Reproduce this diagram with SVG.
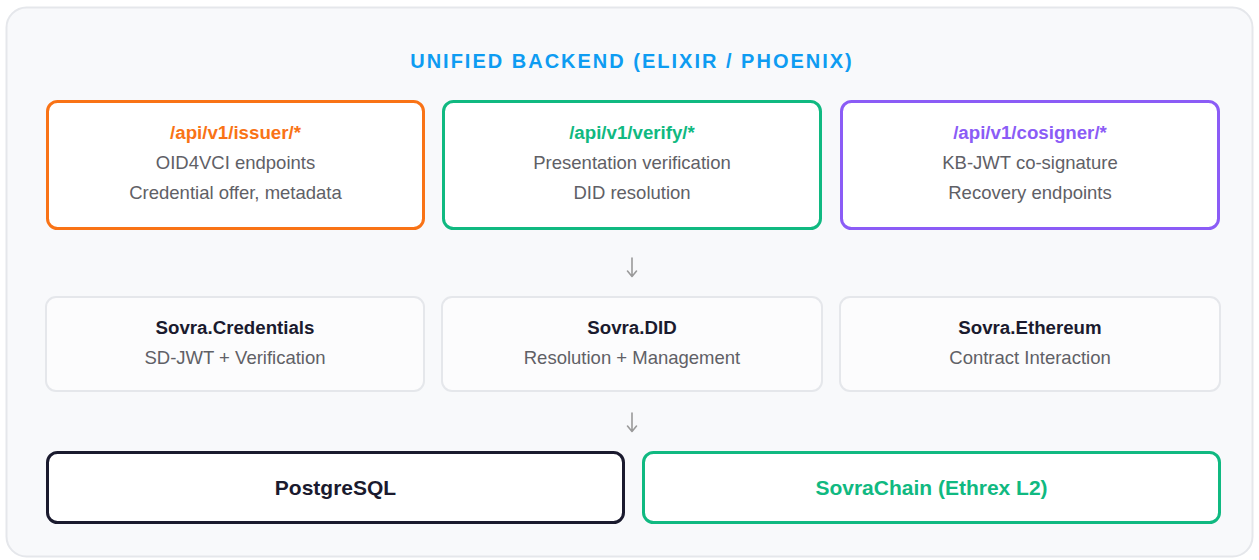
<svg xmlns="http://www.w3.org/2000/svg" width="1259" height="560" viewBox="0 0 1259 560">
<defs>
<style>
.t{font-family:"Liberation Sans",Arial,Helvetica,sans-serif;text-anchor:middle}
.h{font-size:18.7px;font-weight:bold}
.b{font-size:21px;font-weight:bold}
.s{font-size:18.5px;fill:#606066}
.dk{fill:#1a1a2e}
.api{fill:#ffffff;stroke-width:3}
.mod{fill:#fcfcfd;stroke:#e5e7eb;stroke-width:2}
.conn{stroke:#9a9a9a;stroke-width:1.6;fill:none;stroke-linecap:round;stroke-linejoin:round}
</style>
</defs>
<rect x="6.5" y="7.5" width="1246" height="549" rx="20" fill="#f8f9fb" stroke="#e5e7eb" stroke-width="2"/>
<text class="t" x="632" y="68" font-size="20" font-weight="bold" letter-spacing="2" fill="#0e9cf2">UNIFIED BACKEND (ELIXIR / PHOENIX)</text>

<g id="issuer">
<rect class="api" x="47.5" y="101.5" width="376" height="127" rx="10" stroke="#f97316"/>
<text class="t h" x="235.5" y="139" fill="#f97316">/api/v1/issuer/*</text>
<text class="t s" x="235.5" y="169">OID4VCI endpoints</text>
<text class="t s" x="235.5" y="199">Credential offer, metadata</text>
</g>
<g id="verify">
<rect class="api" x="443.5" y="101.5" width="377" height="127" rx="10" stroke="#10b981"/>
<text class="t h" x="632" y="139" fill="#10b981">/api/v1/verify/*</text>
<text class="t s" x="632" y="169">Presentation verification</text>
<text class="t s" x="632" y="199">DID resolution</text>
</g>
<g id="cosigner">
<rect class="api" x="841.5" y="101.5" width="377" height="127" rx="10" stroke="#8b5cf6"/>
<text class="t h" x="1030" y="139" fill="#8b5cf6">/api/v1/cosigner/*</text>
<text class="t s" x="1030" y="169">KB-JWT co-signature</text>
<text class="t s" x="1030" y="199">Recovery endpoints</text>
</g>

<g id="credentials">
<rect class="mod" x="46" y="297" width="378" height="94" rx="10"/>
<text class="t h dk" x="235" y="334">Sovra.Credentials</text>
<text class="t s" x="235" y="364">SD-JWT + Verification</text>
</g>
<g id="did">
<rect class="mod" x="442" y="297" width="380" height="94" rx="10"/>
<text class="t h dk" x="632" y="334">Sovra.DID</text>
<text class="t s" x="632" y="364">Resolution + Management</text>
</g>
<g id="ethereum">
<rect class="mod" x="840" y="297" width="380" height="94" rx="10"/>
<text class="t h dk" x="1030" y="334">Sovra.Ethereum</text>
<text class="t s" x="1030" y="364">Contract Interaction</text>
</g>

<g id="postgres">
<rect x="47.5" y="452.5" width="576" height="70" rx="10" fill="#ffffff" stroke="#1a1a2e" stroke-width="3"/>
<text class="t b dk" x="335.5" y="495">PostgreSQL</text>
</g>
<g id="sovrachain">
<rect x="643.5" y="452.5" width="576" height="70" rx="10" fill="#ffffff" stroke="#10b981" stroke-width="3"/>
<text class="t b" x="931.5" y="495" fill="#10b981">SovraChain (Ethrex L2)</text>
</g>

<g id="connectors">
<path class="conn" d="M632 258 V276 M627.5 271 L632 276.5 L636.5 271"/>
<path class="conn" d="M632 413 V431 M627.5 426 L632 431.5 L636.5 426"/>
</g>
</svg>
